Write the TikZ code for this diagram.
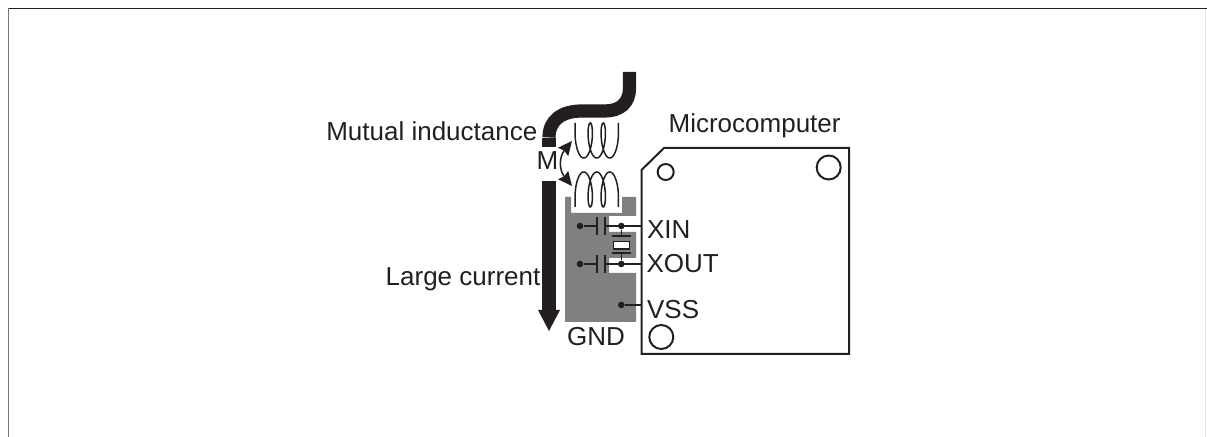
\documentclass[tikz,border=0pt]{standalone}
\usepackage{fontspec}
\setmainfont{Liberation Sans}
\usetikzlibrary{arrows.meta}
\definecolor{inkblack}{HTML}{231F20}
\definecolor{padgray}{HTML}{808080}
\tikzset{
  lbl/.style={inner sep=0pt,text=inkblack,font=\fontsize{13}{15}\selectfont},
  pindot/.style={circle,fill=inkblack,inner sep=0pt,minimum size=3.3pt},
  thin line/.style={draw=inkblack,line width=0.75pt},
  wire/.style={draw=inkblack,line width=6.6pt}
}

\begin{document}
\begin{tikzpicture}[x=0.5pt,y=-0.5pt,line width=0.65pt,>=Stealth]
  \useasboundingbox (0,0) rectangle (1207,437);
  % outer frame, open at the bottom
  \draw[inkblack,line width=0.8pt] (1207,8.5) -- (8.5,8.5);
  \draw[black!55,line width=0.8pt] (8.5,8.5) -- (8.5,437);
  \draw[black!10,line width=0.5pt] (1205.5,9) -- (1205.5,437);
  % ground pad
  \fill[padgray] (565,197) -- (571,197) -- (571,213) -- (622,213) -- (622,197) -- (636,197)
    -- (636,216) -- (609,216) -- (609,232) -- (636,232) -- (636,258) -- (609,258)
    -- (609,273) -- (636,273) -- (636,322) -- (565,322) -- cycle;
  % thick current path
  \draw[wire] (629.5,72) -- (629.5,88) .. controls (629.5,103) and (620,111) .. (605,111)
    -- (582,111) .. controls (562,111) and (549,120) .. (549,137.5);
  \draw[wire] (549,138.3) -- (549,147);
  \draw[wire] (549,181) -- (549,311);
  \fill[inkblack] (538,310) -- (560,310) -- (549,331) -- cycle;
  % coils
  \draw[thin line,domain=65.5:1014.5,samples=181,smooth] (575.1,123) --
    plot ({577.25+13*\x/360-5*sin(\x)},{140.5-17.5*cos(\x)}) -- (618.4,123);
  \draw[thin line,domain=65.5:1014.5,samples=181,smooth] (575.1,207) --
    plot ({577.25+13*\x/360-5*sin(\x)},{189.5+17.5*cos(\x)}) -- (618.4,207);
  % mutual inductance arrow
  \coordinate (mtop) at (572,141);
  \coordinate (mbot) at (572,186);
  \draw[<->,thin line,>={Stealth[length=7pt,width=6.5pt,inset=0.8pt]}] (mtop) .. controls (559,157) and (559,170) .. (mbot);
  % microcomputer package
  \draw[inkblack,line width=1pt] (641.5,170) -- (664,148) -- (849,148) -- (849,354) -- (641.5,354) -- cycle;
  \draw[inkblack,line width=1pt] (665.7,172) circle (8);
  \draw[inkblack,line width=1pt] (828.7,167.5) circle (12);
  \draw[inkblack,line width=1pt] (661.3,337) circle (12);
  % pins on the package edge
  \coordinate (xinpin) at (641.5,226);
  \coordinate (xoutpin) at (641.5,264);
  \coordinate (vsspin) at (641.5,305);
  % load capacitors
  \foreach \n/\y in {xin/226,xout/264} {
    \node[pindot] (\n gnd) at (580,\y) {};
    \node[pindot] (\n dot) at (621.3,\y) {};
    \coordinate (\n capa) at (597,\y);
    \coordinate (\n capb) at (605,\y);
    \draw[thin line] (\n gnd) -- (\n capa);
    \draw[thin line] (\n capb) -- (\n pin);
    \draw[thin line] (597,\y-9) -- (597,\y+9);
    \draw[thin line] (605,\y-9) -- (605,\y+9);
  }
  % crystal
  \node[draw=inkblack,fill=white,line width=0.75pt,minimum width=8pt,minimum height=3.6pt,inner sep=0pt] (crystal) at (621.3,245.3) {};
  \draw[thin line] (xindot) -- (621.3,236);
  \draw[thin line] (xoutdot) -- (621.3,253);
  \draw[line width=0.8pt,inkblack] (612,236) -- (630.5,236);
  \draw[line width=0.8pt,inkblack] (612,253) -- (630.5,253);
  % ground connection
  \node[pindot] (vssdot) at (621.3,305) {};
  \draw[thin line] (vssdot) -- (vsspin);
  % labels
  \node[lbl,anchor=base west] (micro) at (668,133) {Microcomputer};
  \node[lbl,anchor=base east] (mutual) at (538,141) {Mutual inductance};
  \node[lbl,anchor=base east] (large) at (541,286) {Large current};
  \node[lbl,anchor=base] (mlabel) at (547.5,170) {M};
  \node[lbl,anchor=base west] (xin) at (646.5,239) {XIN};
  \node[lbl,anchor=base west] (xout) at (646,273) {XOUT};
  \node[lbl,anchor=base west] (vss) at (646.5,319) {VSS};
  \node[lbl,anchor=base west] (gnd) at (566.5,346) {GND};
\end{tikzpicture}
\end{document}
